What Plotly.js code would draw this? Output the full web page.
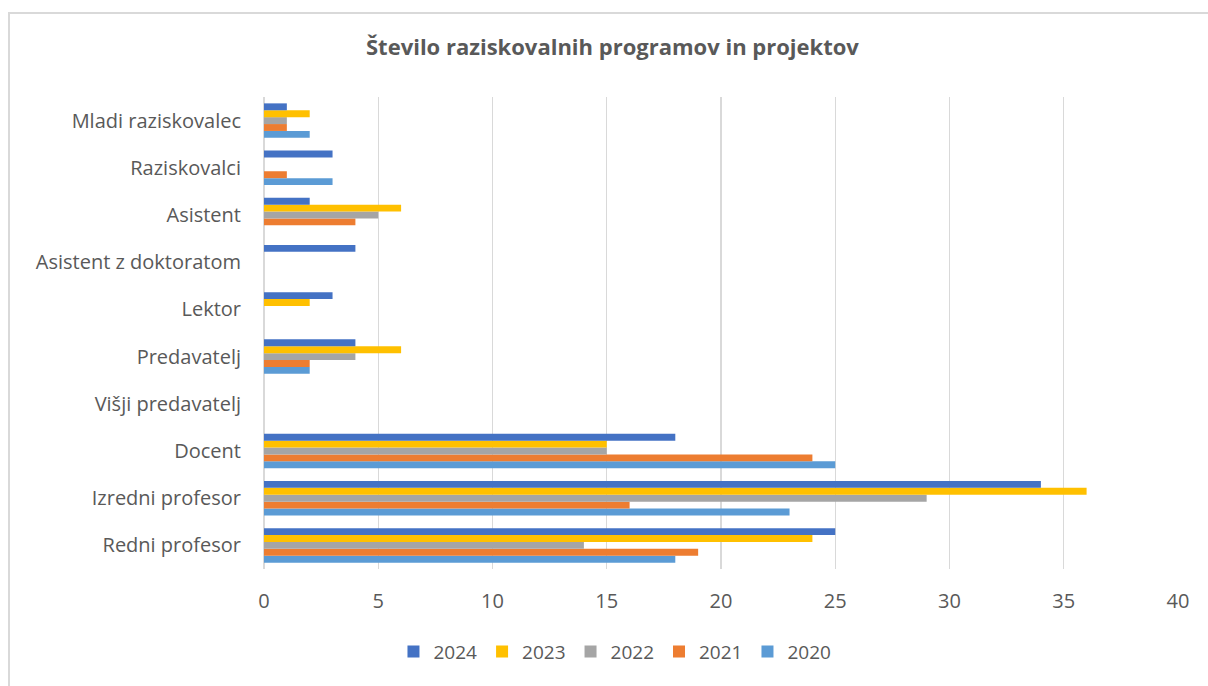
<!DOCTYPE html>
<html>
<head>
<meta charset="utf-8">
<script src="https://cdn.plot.ly/plotly-3.0.1.min.js"></script>
<style>
html,body{margin:0;padding:0;background:#fff;}
#frame{position:absolute;left:8px;top:12px;width:1300px;height:800px;border-left:2px solid #d9d9d9;border-top:2px solid #d9d9d9;box-sizing:border-box;}
#chart{position:absolute;left:0;top:0;width:1208px;height:686px;}
</style>
</head>
<body>
<div id="frame"></div>
<div id="chart"></div>
<script>
const categories = ["Redni profesor","Izredni profesor","Docent","Višji predavatelj","Predavatelj","Lektor","Asistent z doktoratom","Asistent","Raziskovalci","Mladi raziskovalec"];
const years = ["2020","2021","2022","2023","2024"];
const v2020 = [18,23,25,0,2,0,0,0,3,2];
const v2021 = [19,16,24,0,2,0,0,4,1,1];
const v2022 = [14,29,15,0,4,0,0,5,0,1];
const v2023 = [24,36,15,0,6,2,0,6,0,2];
const v2024 = [25,34,18,0,4,3,4,2,3,1];
const colors = ["#5B9BD5","#ED7D31","#A5A5A5","#FFC000","#4472C4"];
const series = [v2020,v2021,v2022,v2023,v2024];

const traces = series.map((vals,i)=>({
  type:'bar', orientation:'h', name:years[i], x:vals, y:categories,
  marker:{color:colors[i]}, hoverinfo:'x+y+name'
}));

const fontFam = '"Open Sans", "Liberation Sans", sans-serif';
const layout = {
  width:1208, height:686,
  margin:{l:264,r:30,t:97,b:117},
  paper_bgcolor:'rgba(0,0,0,0)', plot_bgcolor:'rgba(0,0,0,0)',
  barmode:'group', bargap:0.27, bargroupgap:0,
  title:{text:'<b>Število raziskovalnih programov in projektov</b>', x:0.507, xanchor:'center', y:0.931, yanchor:'middle',
    font:{family:fontFam, size:22, color:'#595959'}},
  xaxis:{range:[0,40], dtick:5, showgrid:true, gridcolor:'#d9d9d9', gridwidth:1.3, zeroline:true, zerolinecolor:'#d9d9d9', zerolinewidth:1.3,
    showline:false, ticks:'', ticklabelstandoff:18, tickfont:{family:fontFam, size:20, color:'#595959'}, fixedrange:true},
  yaxis:{type:'category', categoryorder:'array', categoryarray:categories, showgrid:false, zeroline:false, showline:false, ticks:'',
    ticklabelstandoff:22, tickfont:{family:fontFam, size:20, color:'#595959'}, fixedrange:true},
  legend:{orientation:'h', x:0.384, xanchor:'center', y:-0.175, yanchor:'middle', traceorder:'reversed',
    font:{family:fontFam, size:19, color:'#595959'}, itemwidth:30},
  showlegend:true
};
Plotly.newPlot('chart', traces, layout, {displayModeBar:false, staticPlot:true});
</script>
</body>
</html>
